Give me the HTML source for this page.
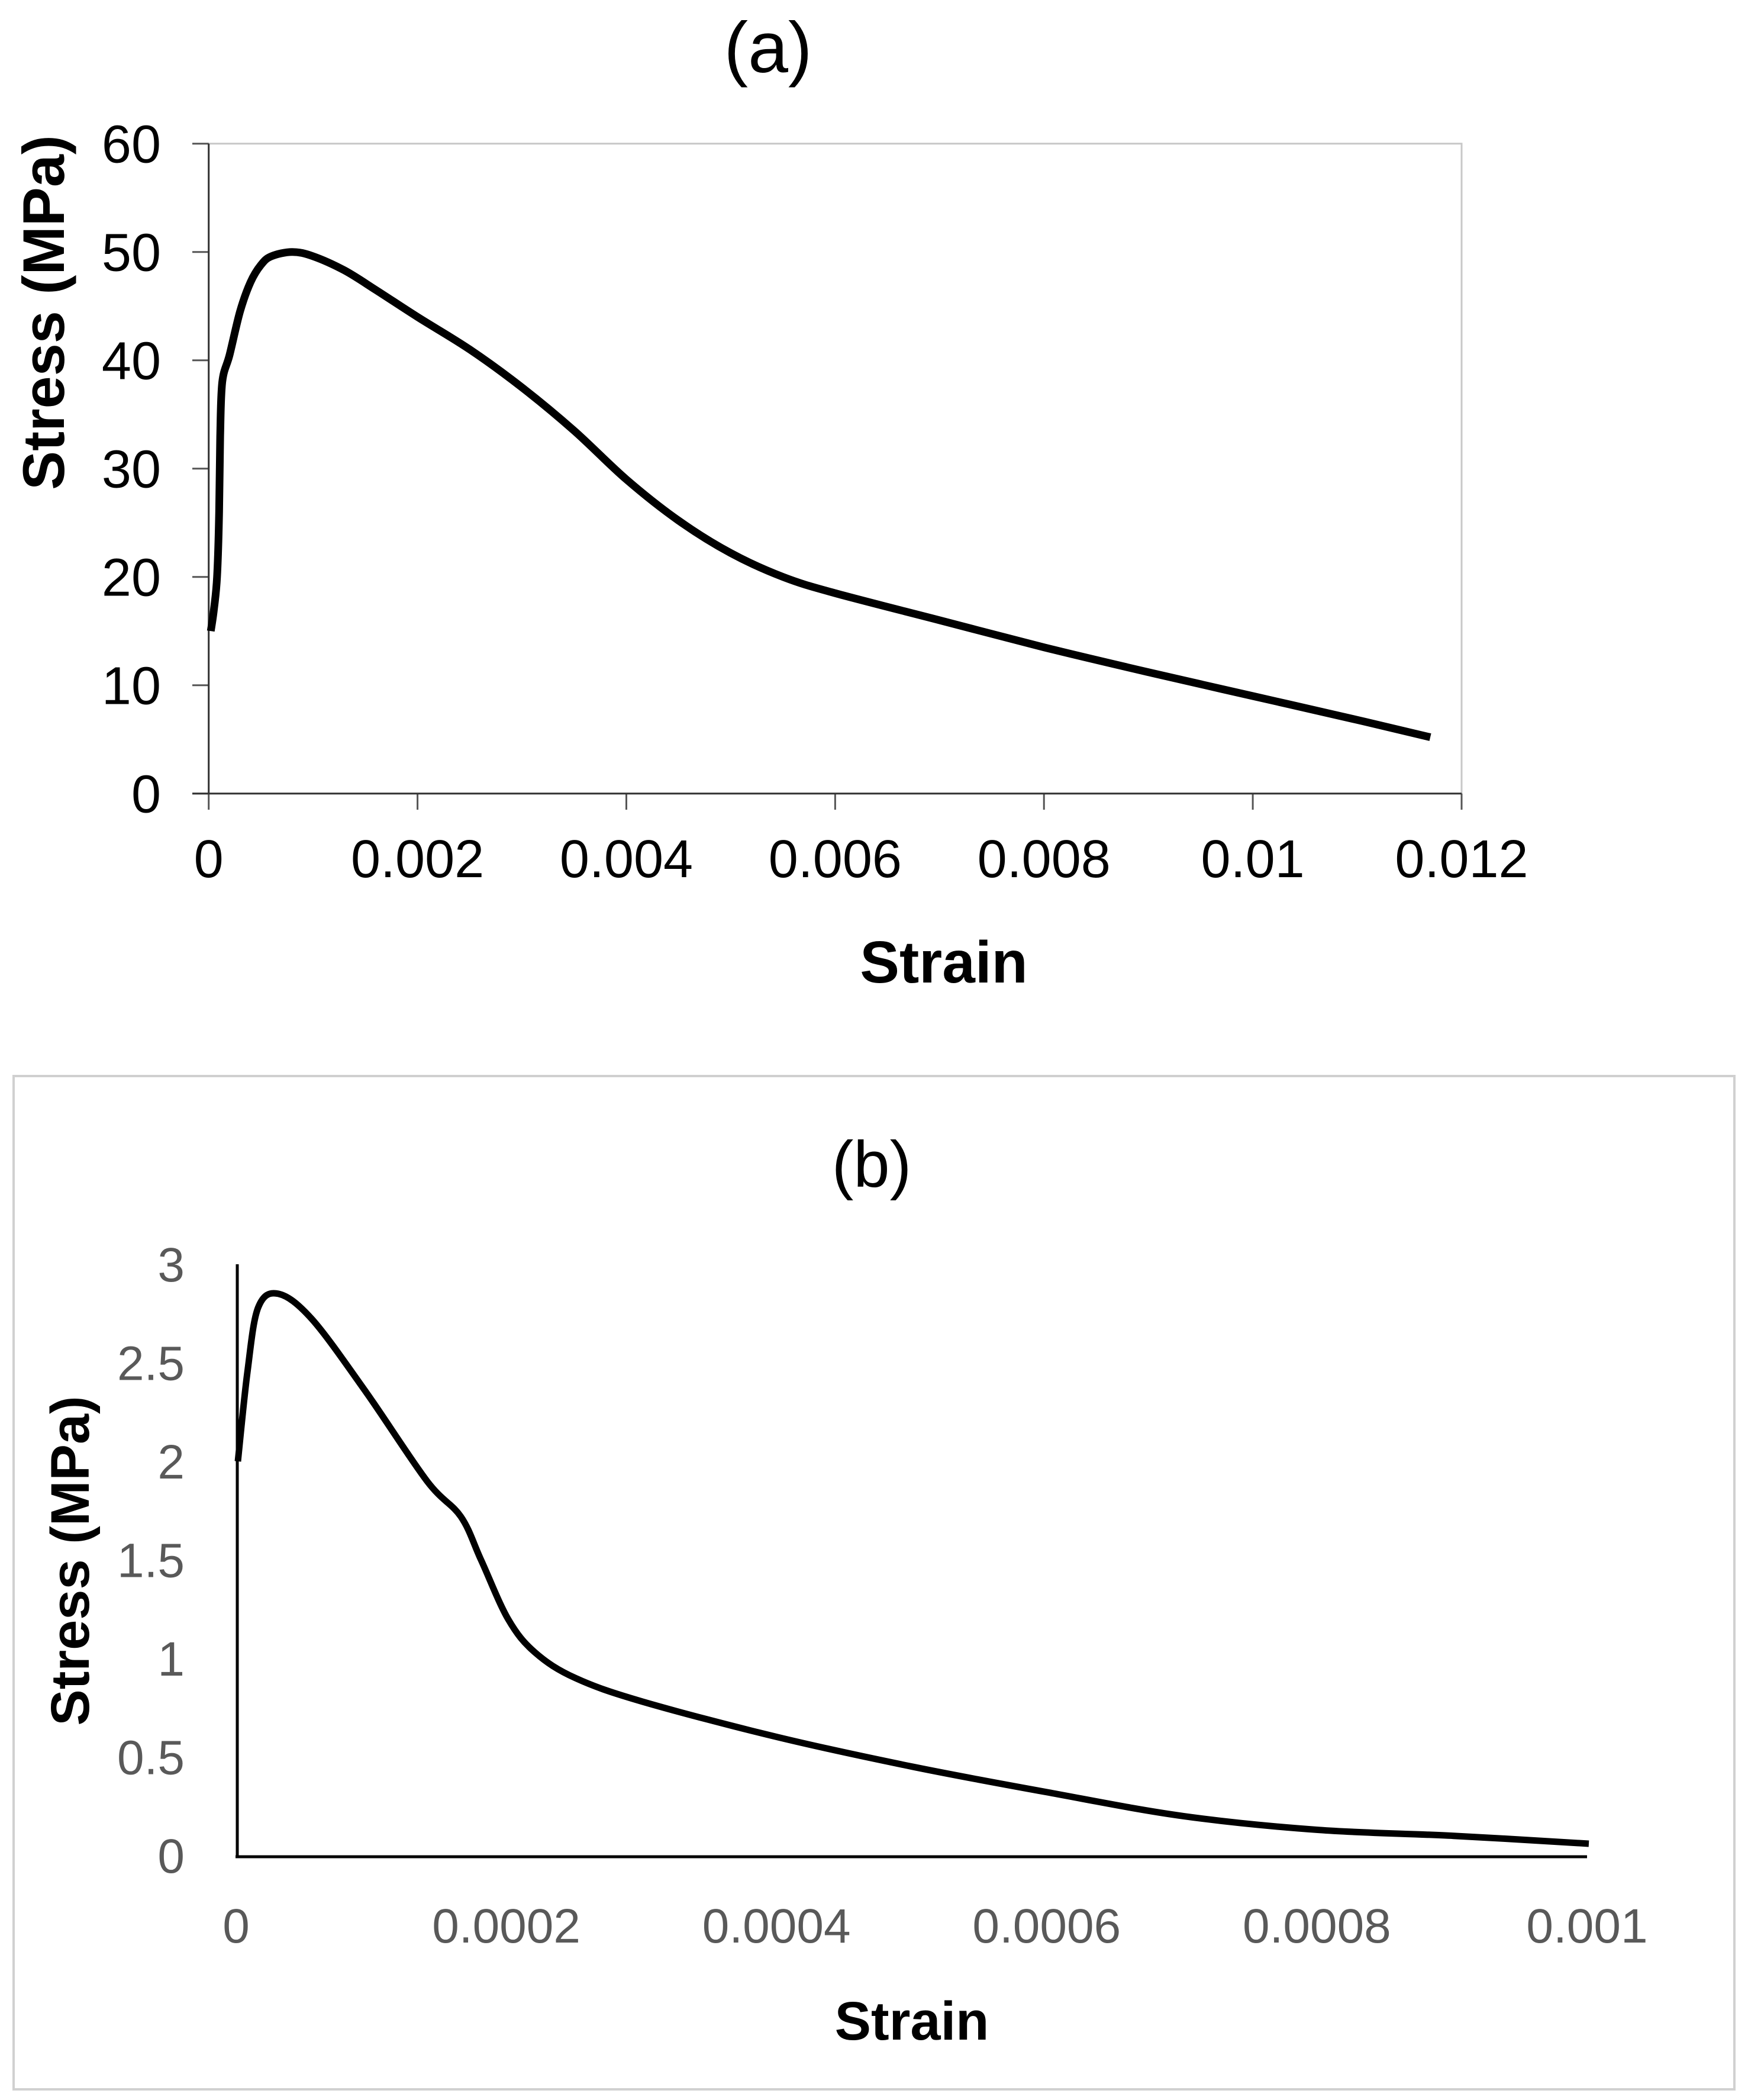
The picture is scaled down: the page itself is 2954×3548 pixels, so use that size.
<!DOCTYPE html>
<html><head><meta charset="utf-8"><style>
html,body{margin:0;padding:0;background:#fff}
svg{display:block}
</style></head><body>
<svg id="s" width="2954" height="3548" viewBox="0 0 2954 3548" xmlns="http://www.w3.org/2000/svg">
<rect x="0" y="0" width="2954" height="3548" fill="#fff"/>
<g id="ga"></g>
<rect x="23" y="1818" width="2908" height="1712" fill="none" stroke="#d0d0d0" stroke-width="4"/>
<g id="gb"></g>
</svg>
<script>
const aStrain=[0.00002,0.00005,0.00008,0.0001,0.00011,0.00013,0.0002,0.0003,0.0004,0.0005,0.0006,0.0008,0.001,0.0013,0.0016,0.002,0.0025,0.003,0.0035,0.004,0.0045,0.005,0.0055,0.006,0.007,0.008,0.009,0.01,0.011,0.0117];
const aStress=[15,17,20,26,33,38,40.5,44.5,47.2,48.8,49.6,50,49.6,48.3,46.5,44,41,37.5,33.5,29,25.2,22.2,20,18.5,16,13.5,11.2,9,6.8,5.2];
const aXTicks=["0","0.002","0.004","0.006","0.008","0.01","0.012"];
const aYTicks=["0","10","20","30","40","50","60"];
const bStrain=[0,0.000007,0.000015,0.00003,0.000055,0.000095,0.00014,0.000165,0.00018,0.0002,0.00022,0.00025,0.0003,0.0004,0.0005,0.0006,0.0007,0.0008,0.0009,0.001];
const bStress=[2.0,2.45,2.78,2.85,2.72,2.35,1.9,1.72,1.5,1.2,1.03,0.9,0.78,0.6,0.45,0.32,0.2,0.13,0.1,0.06];
const bXTicks=["0","0.0002","0.0004","0.0006","0.0008","0.001"];
const bYTicks=["0","0.5","1","1.5","2","2.5","3"];
const NS="http://www.w3.org/2000/svg";
function mk(p,t,at,txt){const e=document.createElementNS(NS,t);for(const k in at)e.setAttribute(k,at[k]);if(txt!==undefined)e.textContent=txt;p.appendChild(e);return e;}
function smooth(pts){let d="M"+pts[0][0]+","+pts[0][1];for(let i=0;i<pts.length-1;i++){const p0=pts[Math.max(0,i-1)],p1=pts[i],p2=pts[i+1],p3=pts[Math.min(pts.length-1,i+2)];const c1x=p1[0]+(p2[0]-p0[0])/6,c1y=p1[1]+(p2[1]-p0[1])/6,c2x=p2[0]-(p3[0]-p1[0])/6,c2y=p2[1]-(p3[1]-p1[1])/6;d+=" C"+c1x.toFixed(1)+","+c1y.toFixed(1)+" "+c2x.toFixed(1)+","+c2y.toFixed(1)+" "+p2[0].toFixed(1)+","+p2[1].toFixed(1);}return d;}
// chart a
(function(){
const g=document.getElementById('ga');
const X=v=>352.7+v/0.012*(2470-352.7), Y=v=>1340.7-v/60*(1340.7-242.7);
let e=mk(g,'rect',{x:352.7,y:242.7,width:2470-352.7,height:1098,fill:'none',stroke:'#c8c8c8','stroke-width':3});


aYTicks.forEach(t=>{const y=Y(+t);
 e=mk(g,'line',{x1:325,x2:352.7,y1:y,y2:y,stroke:'#555','stroke-width':3});
 
 
 e=mk(g,'text',{x:272,y:y+32,'text-anchor':'end','font-family':'Liberation Sans, sans-serif','font-size':90,fill:'#000'},t);
 
 });
aXTicks.forEach(t=>{const x=X(+t);
 e=mk(g,'line',{x1:x,x2:x,y1:1340.7,y2:1368,stroke:'#555','stroke-width':3});
 
 
 e=mk(g,'text',{x:x,y:1482,'text-anchor':'middle','font-family':'Liberation Sans, sans-serif','font-size':90,fill:'#000'},t);
 
 });
e=mk(g,'line',{x1:352.7,x2:352.7,y1:242.7,y2:1340.7,stroke:'#333','stroke-width':3});


e=mk(g,'line',{x1:325,x2:2470,y1:1340.7,y2:1340.7,stroke:'#333','stroke-width':3});


const pts=aStrain.map((s,i)=>[X(s),Y(aStress[i])]);
e=mk(g,'path',{d:smooth(pts),fill:'none',stroke:'#000','stroke-width':13,'stroke-linejoin':'round'});


e=mk(g,'text',{x:1298,y:122,'text-anchor':'middle','font-family':'Liberation Sans, sans-serif','font-size':122,fill:'#000'},'(a)');


e=mk(g,'text',{x:1595,y:1660,'text-anchor':'middle','font-family':'Liberation Sans, sans-serif','font-weight':'bold','font-size':100,fill:'#000'},'Strain');


e=mk(g,'text',{x:0,y:0,transform:'translate(108,528) rotate(-90)','text-anchor':'middle','font-family':'Liberation Sans, sans-serif','font-weight':'bold','font-size':99,fill:'#000'},'Stress (MPa)');


})();
// chart b
(function(){
const g=document.getElementById('gb');
const X=v=>399+v/0.001*(2682-399), Y=v=>3135-v/3*(3135-2136);
let e;
bYTicks.forEach(t=>{const y=Y(+t);
 e=mk(g,'text',{x:312,y:y+29,'text-anchor':'end','font-family':'Liberation Sans Narrow, Liberation Sans, sans-serif','font-size':82,fill:'#595959'},t);
 
 });
bXTicks.forEach(t=>{const x=X(+t);
 e=mk(g,'text',{x:x,y:3282,'text-anchor':'middle','font-family':'Liberation Sans Narrow, Liberation Sans, sans-serif','font-size':82,fill:'#595959'},t);
 
 });
e=mk(g,'line',{x1:401,x2:401,y1:2136,y2:3138,stroke:'#000','stroke-width':5});


e=mk(g,'line',{x1:398,x2:2682,y1:3137,y2:3137,stroke:'#000','stroke-width':5});


const pts=bStrain.map((s,i)=>[X(s)+3,Y(bStress[i])]);
e=mk(g,'path',{d:smooth(pts),fill:'none',stroke:'#000','stroke-width':11,'stroke-linejoin':'round'});


e=mk(g,'text',{x:1473,y:2005,'text-anchor':'middle','font-family':'Liberation Sans, sans-serif','font-size':110,fill:'#000'},'(b)');


e=mk(g,'text',{x:1541,y:3446,'text-anchor':'middle','font-family':'Liberation Sans, sans-serif','font-weight':'bold','font-size':92,fill:'#000'},'Strain');


e=mk(g,'text',{x:0,y:0,transform:'translate(150,2637) rotate(-90)','text-anchor':'middle','font-family':'Liberation Sans, sans-serif','font-weight':'bold','font-size':92,fill:'#000'},'Stress (MPa)');


})();
</script>
</body></html>
